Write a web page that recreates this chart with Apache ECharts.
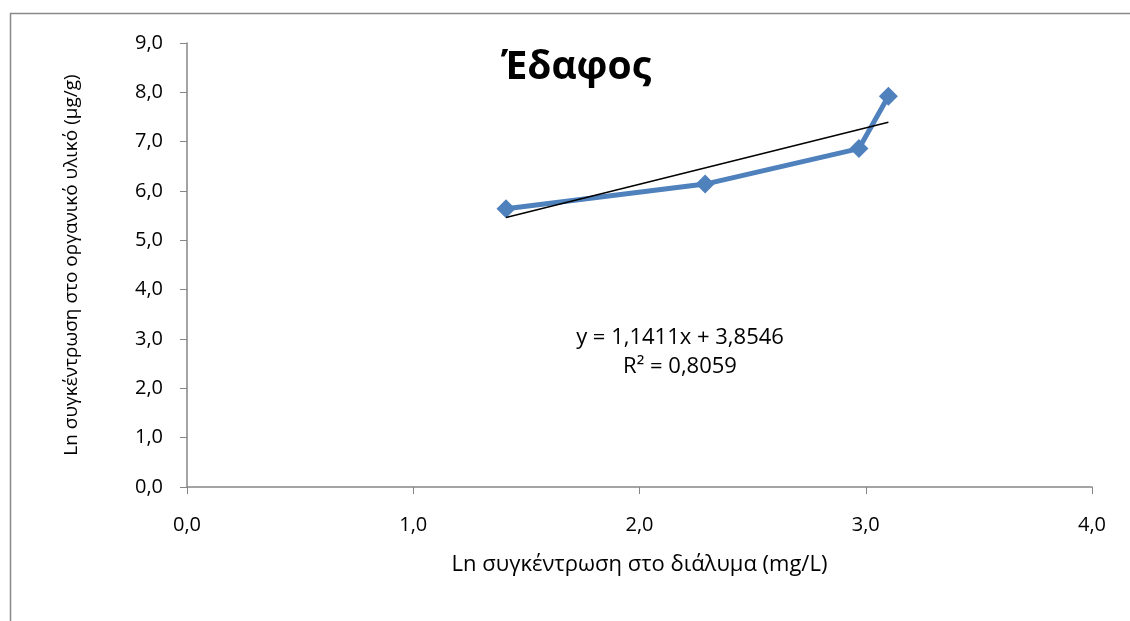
<!DOCTYPE html>
<html><head><meta charset="utf-8">
<script src="https://cdn.jsdelivr.net/npm/echarts@6/dist/echarts.min.js"></script>
<style>html,body{margin:0;padding:0;background:#fff}#c{width:1130px;height:621px}</style>
</head><body><div id="c"></div>
<script>
const xValues = [1.41, 2.29, 2.97, 3.10];
const yValues = [5.64, 6.14, 6.86, 7.92];
const slope = 1.1411, intercept = 3.8546;
const trendX = [1.41, 3.10];
const titleText = 'Έδαφος';
const eqText = 'y = 1,1411x + 3,8546';
const r2Text = 'R² = 0,8059';
const xName = 'Ln συγκέντρωση στο διάλυμα (mg/L)';
const yName = 'Ln συγκέντρωση στο οργανικό υλικό (μg/g)';

const fmt = v => v.toFixed(1).replace('.', ',');
const font = '"Open Sans", "Noto Sans", sans-serif';
const chart = echarts.init(document.getElementById('c'), null, {renderer:'canvas'});
chart.setOption({
  animation: false,
  backgroundColor: '#fff',
  grid: {left:187, right:38, top:43, bottom:134},
  graphic: [
    {type:'rect', shape:{x:10.5, y:13.5, width:1130, height:620}, style:{fill:'none', stroke:'#898989', lineWidth:1.5}, silent:true},
    {type:'text', style:{text:titleText, x:576, y:68, font:'bold 39px '+font, fill:'#000', textAlign:'center', textVerticalAlign:'middle'}},
    {type:'text', style:{text:eqText, x:680, y:338, font:'22px '+font, fill:'#000', textAlign:'center', textVerticalAlign:'middle'}},
    {type:'text', style:{text:r2Text, x:680, y:367, font:'22px '+font, fill:'#000', textAlign:'center', textVerticalAlign:'middle'}}
  ],
  xAxis: {
    type:'value', min:0, max:4, interval:1,
    name:xName, nameLocation:'middle', nameGap:67,
    nameTextStyle:{fontFamily:font, fontSize:22, color:'#000'},
    axisLine:{show:true, lineStyle:{color:'#868686', width:1.5}},
    axisTick:{show:true, length:7, lineStyle:{color:'#868686'}},
    axisLabel:{formatter:fmt, fontFamily:font, fontSize:20, color:'#000', margin:28},
    splitLine:{show:false}
  },
  yAxis: {
    type:'value', min:0, max:9, interval:1,
    name:yName, nameLocation:'middle', nameGap:106, nameRotate:90,
    nameTextStyle:{fontFamily:font, fontSize:19, color:'#000'},
    axisLine:{show:true, lineStyle:{color:'#868686', width:1.5}},
    axisTick:{show:true, length:7, lineStyle:{color:'#868686'}},
    axisLabel:{formatter:fmt, fontFamily:font, fontSize:20, color:'#000', margin:24},
    splitLine:{show:false}
  },
  series: [
    {
      type:'line',
      data: xValues.map((x,i)=>[x, yValues[i]]),
      symbol:'diamond', symbolSize:19,
      lineStyle:{color:'#4F81BD', width:5},
      itemStyle:{color:'#4F81BD'},
      z:2
    },
    {
      type:'line',
      data: trendX.map(x=>[x, slope*x+intercept]),
      symbol:'none',
      lineStyle:{color:'#000', width:1.5},
      z:3
    }
  ]
});
</script></body></html>
